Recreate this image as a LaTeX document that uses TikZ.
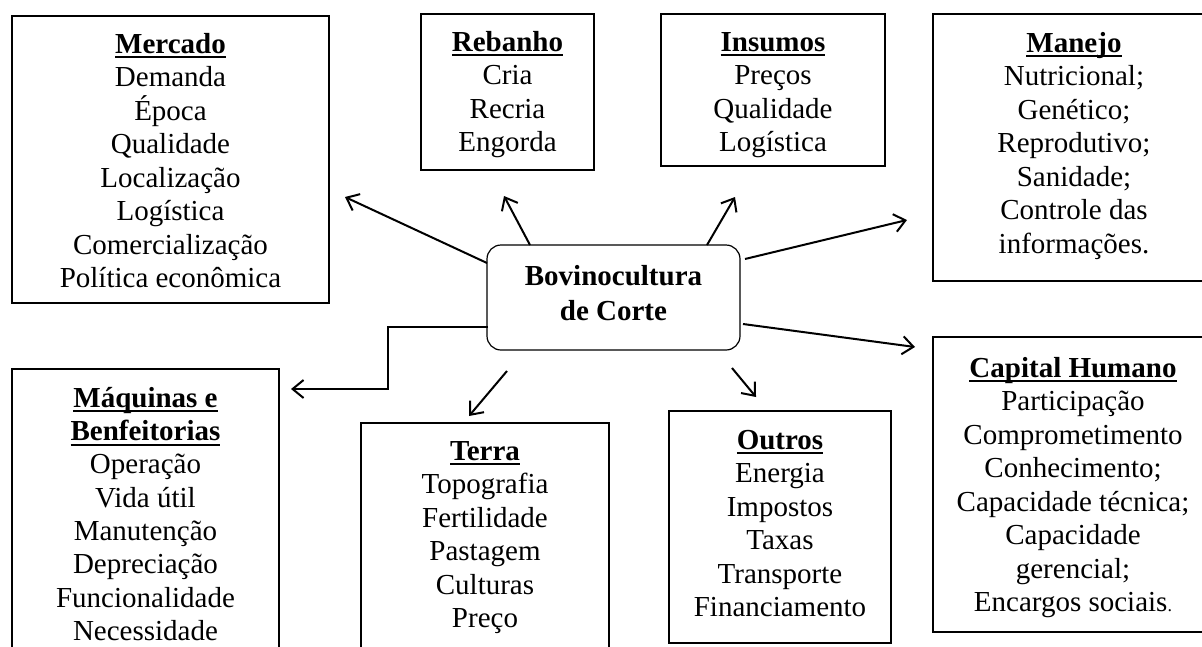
\documentclass[tikz,border=0pt]{standalone}
\usepackage{fontspec}
\setmainfont{Liberation Serif}
\usetikzlibrary{arrows.meta,calc}
\newsavebox\ulbox
\newcommand\ulx[1]{\sbox\ulbox{#1}\rlap{\rule[-5pt]{\wd\ulbox}{1.8pt}}\usebox\ulbox}
\newcommand\hd{\rule{0pt}{22pt}}
\tikzset{
  boxx/.style={draw=black,line width=1.2pt,anchor=north west,inner sep=0pt,outer sep=0pt},
  txt/.style={anchor=north,align=center,inner sep=0pt,font=\fontsize{29}{33.5}\selectfont},
  arr/.style={line width=2pt,-{Straight Barb[length=11pt,width=18pt]}},
}
\begin{document}
\begin{tikzpicture}[x=1pt,y=-1pt]
\useasboundingbox (0,0) rectangle (1202,646);
\clip (0,0) rectangle (1202,646);
\fill[white] (0,0) rectangle (1202,646);

% boxes
\node[boxx,minimum width=317pt,minimum height=287pt] (mercado) at (12,16) {};
\node[boxx,minimum width=173pt,minimum height=156pt] (rebanho) at (421,14) {};
\node[boxx,minimum width=224pt,minimum height=152pt] (insumos) at (661,14) {};
\node[boxx,minimum width=282pt,minimum height=267pt] (manejo) at (933,14) {};
\node[boxx,minimum width=280pt,minimum height=295pt] (capital) at (933,337) {};
\node[boxx,minimum width=222pt,minimum height=232pt] (outros) at (669,411) {};
\node[boxx,minimum width=248pt,minimum height=240pt] (terra) at (361,423) {};
\node[boxx,minimum width=267pt,minimum height=300pt] (maquinas) at (12,369) {};
\node[boxx,rounded corners=14pt,minimum width=253pt,minimum height=105pt] (cb) at (487,245) {};

% texts
\node[txt] (mercadot) at (170.5,31) {\hd\ulx{\textbf{Mercado}}\\Demanda\\Época\\Qualidade\\Localização\\Logística\\Comercialização\\Política econômica};
\node[txt] (rebanhot) at (507.5,29) {\hd\ulx{\textbf{Rebanho}}\\Cria\\Recria\\Engorda};
\node[txt] (insumost) at (773,29) {\hd\ulx{\textbf{Insumos}}\\Preços\\Qualidade\\Logística};
\node[txt] (manejot) at (1074,30) {\hd\ulx{\textbf{Manejo}}\\Nutricional;\\Genético;\\Reprodutivo;\\Sanidade;\\Controle das\\informações.};
\node[txt,font=\fontsize{29}{35}\selectfont\bfseries] (cbt) at (613.5,263) {\hd Bovinocultura\\de Corte};
\node[txt,font=\fontsize{29}{33.3}\selectfont] (maquinast) at (145.5,385) {\hd\ulx{\textbf{Máquinas e}}\\\ulx{\textbf{Benfeitorias}}\\Operação\\Vida útil\\Manutenção\\Depreciação\\Funcionalidade\\Necessidade};
\node[txt] (terrat) at (485,438) {\hd\ulx{\textbf{Terra}}\\Topografia\\Fertilidade\\Pastagem\\Culturas\\Preço};
\node[txt] (outrost) at (780,427) {\hd\ulx{\textbf{Outros}}\\Energia\\Impostos\\Taxas\\Transporte\\Financiamento};
\node[txt] (capitalt) at (1073,355) {\hd\ulx{\textbf{Capital Humano}}\\Participação\\Comprometimento\\Conhecimento;\\Capacidade técnica;\\Capacidade\\gerencial;\\Encargos sociais{\fontsize{18}{18}\selectfont .}};

% arrow tips
\coordinate (tmercado) at (345,197);
\coordinate (trebanho) at (504,196);
\coordinate (tinsumos) at (735,197);
\coordinate (tmanejo) at (907,220);
\coordinate (tcapital) at (915,347);
\coordinate (toutros) at (756,397);
\coordinate (tterra) at (469,416);
\coordinate (tmaquinas) at (291,389);

% arrows
\draw[arr] ($(cb.north west)+(0,18)$) -- (tmercado);
\draw[arr] ($(cb.north west)+(43,0)$) -- (trebanho);
\draw[arr] ($(cb.north west)+(220,0)$) -- (tinsumos);
\draw[arr] ($(cb.north east)+(5,14)$) -- (tmanejo);
\draw[arr] ($(cb.north east)+(3,79)$) -- (tcapital);
\draw[arr] ($(cb.south east)+(-8,18)$) -- (toutros);
\draw[arr] ($(cb.south west)+(20,21)$) -- (tterra);
\draw[arr] ($(cb.south west)+(1,-23)$) -- ++(-100,0) |- (tmaquinas);
\end{tikzpicture}
\end{document}
